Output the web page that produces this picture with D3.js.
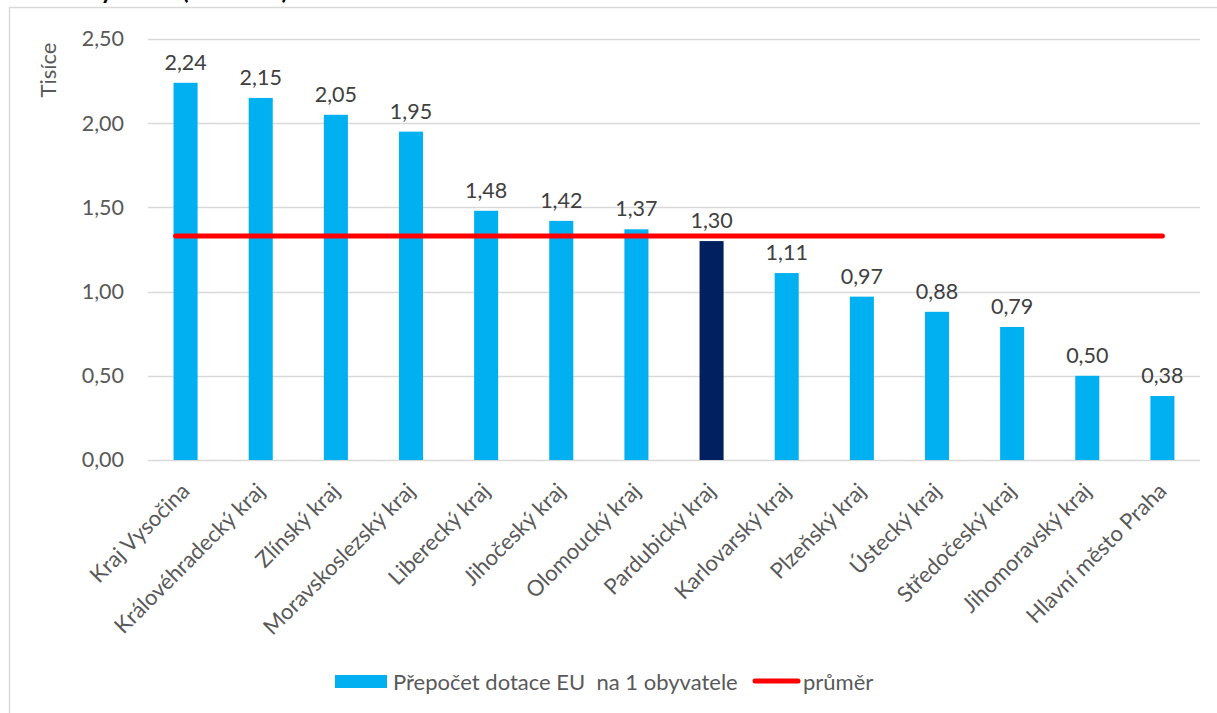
<!DOCTYPE html>
<html>
<head>
<meta charset="utf-8">
<script src="https://cdn.jsdelivr.net/npm/d3@7"></script>
<style>
  html, body { margin: 0; padding: 0; background: #fff; }
  svg { display: block; font-family: Lato, "Open Sans", sans-serif; }
  text { white-space: pre; }
</style>
</head>
<body>
<svg id="chart" width="1217" height="713"></svg>
<script>
const categories = ["Kraj Vysočina", "Královéhradecký kraj", "Zlínský kraj", "Moravskoslezský kraj",
  "Liberecký kraj", "Jihočeský kraj", "Olomoucký kraj", "Pardubický kraj", "Karlovarský kraj",
  "Plzeňský kraj", "Ústecký kraj", "Středočeský kraj", "Jihomoravský kraj", "Hlavní město Praha"];
const values = [2.24, 2.15, 2.05, 1.95, 1.48, 1.42, 1.37, 1.30, 1.11, 0.97, 0.88, 0.79, 0.50, 0.38];
const highlighted = ["Pardubický kraj"];
const average = 1.33;
const yTicks = [0, 0.5, 1, 1.5, 2, 2.5];
const seriesNames = ["Přepočet dotace EU  na 1 obyvatele", "průměr"];
const axisTitle = "Tisíce";
const titleParts = ["Dotace na obyvatele", "(v tis. Kč)"];

const svg = d3.select("#chart");
const fmt = v => d3.format(".2f")(v).replace(".", ",");
const textColor = "#595959";
const fs = 21.5;

// outer chart border
svg.append("rect").attr("x", 9.5).attr("y", 7.5).attr("width", 1240).attr("height", 720)
  .attr("fill", "none").attr("stroke", "#D9D9D9").attr("stroke-width", 1.5);

// clipped title fragment above the chart (only descenders visible)
svg.append("text").attr("x", 178).attr("y", -1).attr("text-anchor", "end").attr("font-weight", "bold")
  .attr("font-size", 24).attr("fill", "#000").text(titleParts[0]);
svg.append("text").attr("x", 182).attr("y", -1).attr("font-weight", "bold")
  .attr("font-size", 24).attr("fill", "#000")
  .attr("textLength", 106).attr("lengthAdjust", "spacing").text(titleParts[1]);

const x = d3.scaleBand().domain(categories).range([148, 1200]).paddingInner(0.68).paddingOuter(0.34);
const y = d3.scaleLinear().domain([0, 2.5]).range([460, 39]);

// gridlines
svg.append("g").selectAll("line").data(yTicks).join("line")
  .attr("x1", 148).attr("x2", 1200)
  .attr("y1", d => Math.round(y(d)) + 0.5).attr("y2", d => Math.round(y(d)) + 0.5)
  .attr("stroke", "#D9D9D9").attr("stroke-width", 1.5);

// y axis labels
const yAxis = d3.axisLeft(y).tickValues(yTicks).tickFormat(fmt).tickSize(0).tickPadding(0);
const ya = svg.append("g").attr("transform", "translate(124,0)").call(yAxis);
ya.select(".domain").remove();
ya.selectAll("text").attr("font-size", fs).attr("fill", textColor).attr("font-family", "Lato, sans-serif");

// y axis title
svg.append("text").attr("transform", "translate(56,70) rotate(-90)")
  .attr("text-anchor", "middle").attr("font-size", 22).attr("fill", textColor).text(axisTitle);

// bars
svg.append("g").selectAll("rect").data(categories).join("rect")
  .attr("x", d => x(d)).attr("width", x.bandwidth())
  .attr("y", (d, i) => y(values[i])).attr("height", (d, i) => y(0) - y(values[i]))
  .attr("fill", d => highlighted.includes(d) ? "#002060" : "#00B0F0");

// value labels
svg.append("g").selectAll("text").data(categories).join("text")
  .attr("x", d => x(d) + x.bandwidth() / 2)
  .attr("y", (d, i) => y(values[i]) - 13)
  .attr("text-anchor", "middle").attr("font-size", fs).attr("fill", "#404040")
  .text((d, i) => fmt(values[i]));

// average line
svg.append("line")
  .attr("x1", x(categories[0]) + 2).attr("x2", x(categories[categories.length - 1]) + x.bandwidth() / 2)
  .attr("y1", y(average)).attr("y2", y(average))
  .attr("stroke", "#FF0000").attr("stroke-width", 5).attr("stroke-linecap", "round");

// x axis category labels
const xAxis = d3.axisBottom(x).tickSize(0).tickPadding(0);
const xa = svg.append("g").attr("transform", "translate(0,460)").call(xAxis);
xa.select(".domain").remove();
xa.selectAll("text")
  .attr("font-size", 22).attr("fill", textColor).attr("font-family", "Lato, sans-serif")
  .attr("text-anchor", "end")
  .attr("transform", "translate(0,27) rotate(-45)")
  .attr("dy", "0.35em").attr("y", 0);

// legend
const lg = svg.append("g");
lg.append("rect").attr("x", 335).attr("y", 675).attr("width", 52).attr("height", 13).attr("fill", "#00B0F0");
lg.append("text").attr("x", 393).attr("y", 682).attr("dy", "0.35em").attr("font-size", 22).attr("fill", textColor).text(seriesNames[0]);
lg.append("line").attr("x1", 755).attr("x2", 798).attr("y1", 681).attr("y2", 681)
  .attr("stroke", "#FF0000").attr("stroke-width", 5).attr("stroke-linecap", "round");
lg.append("text").attr("x", 803).attr("y", 682).attr("dy", "0.35em").attr("font-size", 22).attr("fill", textColor).text(seriesNames[1]);
</script>
</body>
</html>
